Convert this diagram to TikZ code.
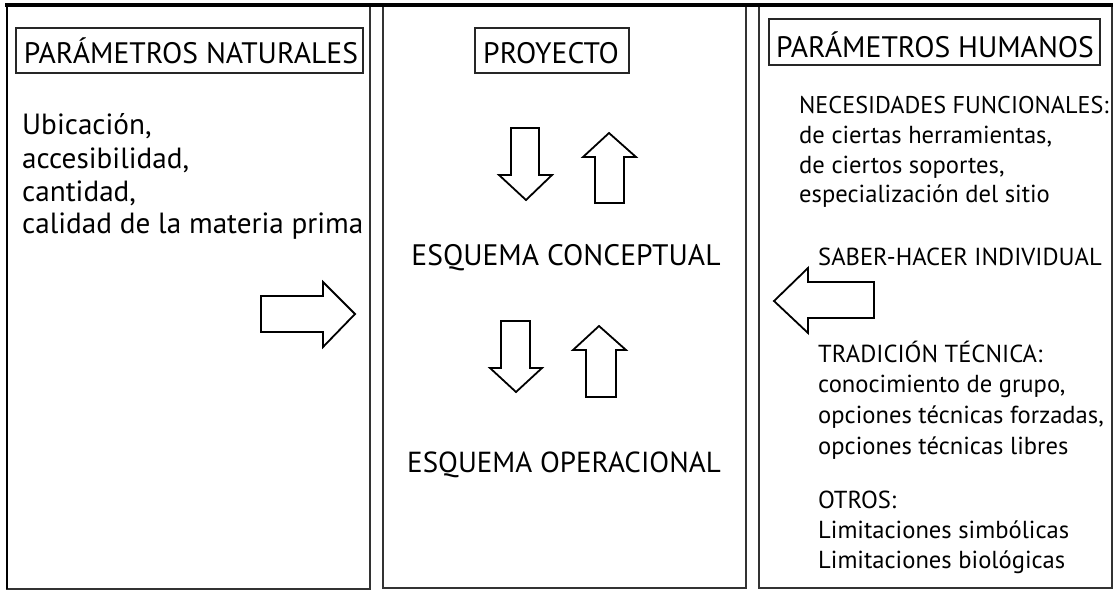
\documentclass[tikz,border=0pt]{standalone}
\usepackage{fontspec}
\newfontfamily\regf{PT Sans}
\begin{document}
\begin{tikzpicture}[x=1pt,y=-1pt,
  panel/.style={draw=black!80,line width=1.6pt},
  titlebox/.style={draw=black!85,line width=1.4pt},
  blockarrow/.style={draw=black,line width=1.8pt,fill=white,line join=miter},
  ttl/.style={anchor=base,inner sep=0pt,font=\regf\fontsize{29.6}{31}\selectfont},
  ltxt/.style={anchor=base west,inner sep=0pt,font=\regf\fontsize{29.2}{31}\selectfont},
  rtxt/.style={anchor=base west,inner sep=0pt,font=\regf\fontsize{24.6}{26}\selectfont},
  big/.style={anchor=base,inner sep=0pt,font=\regf\fontsize{29.6}{31}\selectfont}]
\useasboundingbox (0,0) rectangle (1116,590);
% panels
\draw[panel] (7,6) rectangle (370,589);
\draw[panel] (383,6) rectangle (746,588);
\draw[panel] (759,6) rectangle (1112,588);
\draw[black,line width=2.5pt] (7,6) -- (7,589);
\draw[black,line width=4pt] (5,5) -- (1113,5);
% title boxes
\draw[titlebox] (16,28) rectangle (363,73);
\node[ttl] (tn) at (191,63) {PARÁMETROS NATURALES};
\draw[titlebox] (475,28) rectangle (629,73);
\node[ttl] (tp) at (551,63) {PROYECTO};
\draw[titlebox] (769,19) rectangle (1100,65);
\node[ttl] (th) at (935,57) {PARÁMETROS HUMANOS};
% left texts
\node[ltxt] (l1) at (22,134) {Ubicación,};
\node[ltxt] (l2) at (22,168) {accesibilidad,};
\node[ltxt] (l3) at (22,201) {cantidad,};
\node[ltxt] (l4) at (22,233) {calidad de la materia prima};
% middle texts
\node[big] (ec) at (566,265) {ESQUEMA CONCEPTUAL};
\node[big,font=\regf\fontsize{29}{31}\selectfont] (eo) at (564,472) {ESQUEMA OPERACIONAL};
% right texts
\node[rtxt,font=\regf\fontsize{24.2}{26}\selectfont] (r1) at (799,113) {NECESIDADES FUNCIONALES:};
\node[rtxt] (r2) at (799,143) {de ciertas herramientas,};
\node[rtxt] (r3) at (799,173) {de ciertos soportes,};
\node[rtxt] (r4) at (799,202) {especialización del sitio};
\node[rtxt] (r5) at (818,265) {SABER-HACER INDIVIDUAL};
\node[rtxt] (r6) at (818,362) {TRADICIÓN TÉCNICA:};
\node[rtxt] (r7) at (818,392) {conocimiento de grupo,};
\node[rtxt] (r8) at (818,423) {opciones técnicas forzadas,};
\node[rtxt] (r9) at (818,454) {opciones técnicas libres};
\node[rtxt] (r10) at (818,508) {OTROS:};
\node[rtxt] (r11) at (818,538) {Limitaciones simbólicas};
\node[rtxt] (r12) at (818,568) {Limitaciones biológicas};
% block arrows
\draw[blockarrow] (511,128) -- (539,128) -- (539,175) -- (552,175) -- (526,200) -- (499,175) -- (511,175) -- cycle;
\draw[blockarrow] (595,203) -- (624,203) -- (624,157) -- (636,157) -- (609,133) -- (583,157) -- (595,157) -- cycle;
\draw[blockarrow] (501,321) -- (530,321) -- (530,368) -- (542,368) -- (516,392) -- (490,368) -- (501,368) -- cycle;
\draw[blockarrow] (586,397) -- (616,397) -- (616,350) -- (626,350) -- (599,326) -- (573,350) -- (586,350) -- cycle;
\draw[blockarrow] (261,296) -- (323,296) -- (323,282) -- (355,314) -- (323,347) -- (323,332) -- (261,332) -- cycle;
\draw[blockarrow] (874,282) -- (808,282) -- (808,268) -- (774,301) -- (808,333) -- (808,318) -- (874,318) -- cycle;
\end{tikzpicture}
\end{document}
